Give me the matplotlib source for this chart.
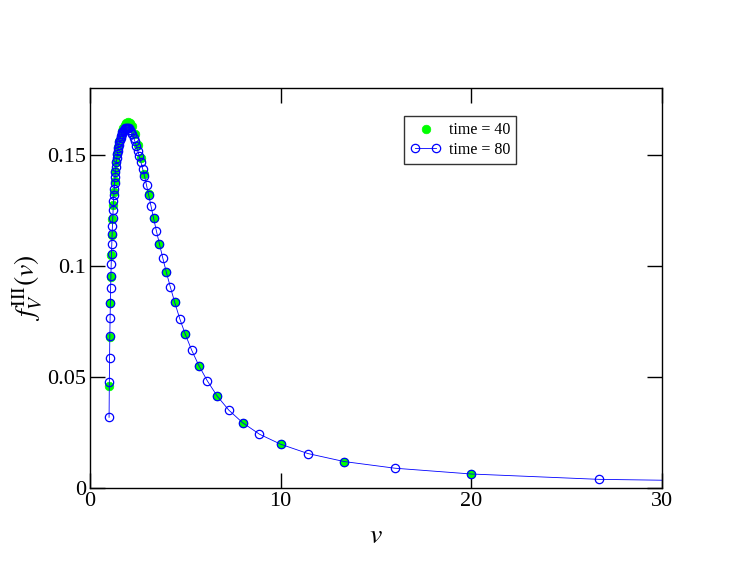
import matplotlib
matplotlib.use("Agg")
import matplotlib.pyplot as plt
from matplotlib.legend_handler import HandlerLine2D

# time = 80 run: v = 80/n, n = 80 ... 2
v80 = [1.000, 1.013, 1.026, 1.039, 1.053, 1.067, 1.081, 1.096, 1.111, 1.127,
       1.143, 1.159, 1.176, 1.194, 1.212, 1.231, 1.250, 1.270, 1.290, 1.311,
       1.333, 1.356, 1.379, 1.404, 1.429, 1.455, 1.481, 1.509, 1.538, 1.569,
       1.600, 1.633, 1.667, 1.702, 1.739, 1.778, 1.818, 1.860, 1.905, 1.951,
       2.000, 2.051, 2.105, 2.162, 2.222, 2.286, 2.353, 2.424, 2.500, 2.581,
       2.667, 2.759, 2.857, 2.963, 3.077, 3.200, 3.333, 3.478, 3.636, 3.810,
       4.000, 4.211, 4.444, 4.706, 5.000, 5.333, 5.714, 6.154, 6.667, 7.273,
       8.000, 8.889, 10.00, 11.43, 13.33, 16.00, 20.00, 26.67, 40.00]
f80 = [0.0318, 0.0479, 0.0587, 0.0682, 0.0763, 0.0832, 0.0900, 0.0955, 0.1009, 0.1055,
       0.1100, 0.1143, 0.1179, 0.1215, 0.1252, 0.1290, 0.1320, 0.1347, 0.1374, 0.1400,
       0.1424, 0.1446, 0.1466, 0.1484, 0.1501, 0.1516, 0.1530, 0.1543, 0.1555, 0.1566,
       0.1576, 0.1585, 0.1593, 0.1600, 0.1606, 0.1611, 0.1615, 0.1618, 0.1620, 0.1622,
       0.1622, 0.1619, 0.1613, 0.1604, 0.1592, 0.1577, 0.1560, 0.1540, 0.1518, 0.1494,
       0.1467, 0.1437, 0.1404, 0.1363, 0.1318, 0.1268, 0.1215, 0.1158, 0.1100, 0.1037,
       0.0972, 0.0905, 0.0835, 0.0762, 0.0691, 0.0620, 0.0550, 0.0482, 0.0414, 0.0351,
       0.0294, 0.0242, 0.0197, 0.0155, 0.0119, 0.0089, 0.0063, 0.0039, 0.0023]

# time = 40 run: v = 40/n, n = 40 ... 2
v40 = [1.000, 1.026, 1.053, 1.081, 1.111, 1.143, 1.176, 1.212, 1.250, 1.290,
       1.333, 1.379, 1.429, 1.481, 1.538, 1.600, 1.667, 1.739, 1.818, 1.905,
       2.000, 2.105, 2.222, 2.353, 2.500, 2.667, 2.857, 3.077, 3.333, 3.636,
       4.000, 4.444, 5.000, 5.714, 6.667, 8.000, 10.00, 13.33, 20.00]
f40 = [0.0458, 0.0679, 0.0832, 0.0950, 0.1050, 0.1137, 0.1210, 0.1275, 0.1332, 0.1382,
       0.1426, 0.1466, 0.1502, 0.1534, 0.1562, 0.1586, 0.1606, 0.1622, 0.1635, 0.1643,
       0.1648, 0.1643, 0.1627, 0.1592, 0.1545, 0.1485, 0.1412, 0.1322, 0.1215, 0.1100,
       0.0972, 0.0835, 0.0691, 0.0550, 0.0414, 0.0294, 0.0197, 0.0119, 0.0063]

xticks = [0, 10, 20, 30]
yticks = [0, 0.05, 0.1, 0.15]
yticklabels = ["0", "0.05", "0.1", "0.15"]

plt.rcParams['font.family'] = ['Liberation Serif', 'DejaVu Serif']
plt.rcParams['mathtext.fontset'] = 'stix'

fig = plt.figure(figsize=(7.47, 5.75), dpi=100)
ax = fig.add_axes([0.1205, 0.1513, 0.7657, 0.6957])

g, = ax.plot(v40, f40, linestyle='none', marker='o', markersize=6.2,
             markerfacecolor='#00ff00', markeredgecolor='#00ff00',
             markeredgewidth=0.5, label='time = 40')
b, = ax.plot(v80, f80, color='blue', linewidth=0.6, marker='o', markersize=6,
             markerfacecolor='none', markeredgecolor='blue',
             markeredgewidth=0.9, label='time = 80')

ax.set_xlim(0, 30)
ax.set_ylim(0, 0.18)
ax.set_xticks(xticks)
ax.set_xticklabels([str(t) for t in xticks])
ax.set_yticks(yticks)
ax.set_yticklabels(yticklabels)
ax.tick_params(direction='in', length=11, width=1, top=True, right=True,
               labelsize=16, pad=3)
for s in ax.spines.values():
    s.set_linewidth(1)

ax.set_xlabel(r'$v$', fontsize=20, labelpad=9)
ax.set_ylabel(r'$f_V^{\rm III}(v)$', fontsize=20, labelpad=1)

leg = ax.legend(handles=[g, b], loc='upper left', bbox_to_anchor=(0.535, 0.95),
                fontsize=11.5, numpoints=2, handlelength=1.9, handletextpad=0.5,
                borderpad=0.4, labelspacing=0.2, fancybox=False,
                handler_map={g: HandlerLine2D(numpoints=1)})
leg.get_frame().set_edgecolor('black')
leg.get_frame().set_linewidth(1)

fig.savefig('out.png', dpi=100)
